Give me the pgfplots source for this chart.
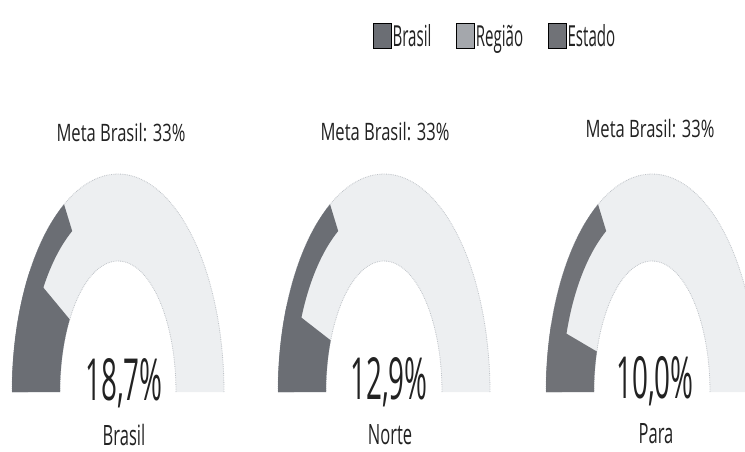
\documentclass[border=0pt]{standalone}
\usepackage{pgfplots}
\pgfplotsset{compat=1.18}
\usepackage{fontspec}
\setmainfont{Open Sans}
\newfontfamily\fmeta[FakeStretch=0.69]{Open Sans}
\newfontfamily\fval[FakeStretch=0.48]{Open Sans}
\newfontfamily\fname[FakeStretch=0.59]{Open Sans}
\newfontfamily\fleg[FakeStretch=0.52]{Open Sans}
\definecolor{bgc}{HTML}{EDEFF1}
\definecolor{edgec}{HTML}{BFC3C8}
\definecolor{cbrasil}{HTML}{6B6E74}
\definecolor{cregiao}{HTML}{A4A7AC}
\definecolor{cestado}{HTML}{707277}
\definecolor{txt}{HTML}{222222}

% annular sector of an elliptic gauge: #1 centre x, #2 outer rx, #3 outer ry,
% #4 inner rx, #5 inner ry, #6 share in percent, #7 style
\newcommand{\sector}[7]{%
  \addplot[#7, domain=0:2, samples=121, variable=\t]
   ({#1 + ((\t<=1) ? #2*cos(180-1.8*(#6)*(1-\t)) : #4*cos(180-1.8*(#6)*max(\t-1-1/60,0)*60/59))},
    {59 + ((\t<=1) ? #3*sin(180-1.8*(#6)*(1-\t)) : #5*sin(180-1.8*(#6)*max(\t-1-1/60,0)*60/59))});
}
% #1 centre x, #2 value, #3 meta, #4 fill colour
\newcommand{\gauge}[4]{%
  \sector{#1}{106}{218}{58}{131}{100}{fill=bgc, draw=none}
  \addplot[draw=edgec, line width=0.8pt, densely dotted, domain=0:180, samples=73, variable=\t] ({#1+106*cos(\t)},{59+218*sin(\t)});
  \addplot[draw=edgec, line width=0.8pt, densely dotted, domain=0:180, samples=73, variable=\t] ({#1+58*cos(\t)},{59+131*sin(\t)});
  \sector{#1}{106}{218}{58}{131}{#2}{fill=#4, draw=none}
  \sector{#1}{106}{218}{90}{187}{#3}{fill=#4, draw=none}
}

\begin{document}
\begin{tikzpicture}
\useasboundingbox (0,0) rectangle (745pt,451pt);
\begin{axis}[
  at={(0,0)}, anchor=south west,
  width=745pt, height=451pt, scale only axis,
  xmin=0, xmax=745, ymin=0, ymax=451,
  hide axis, clip=false,
  legend columns=3,
  legend image code/.code={\fill[#1] (0pt,-12pt) rectangle (18pt,13pt);},
  legend style={at={(0.5007,0.9202)}, anchor=west, draw=none, fill=none,
    font=\fontsize{29}{31}\fleg\color{txt}, inner sep=0pt,
    nodes={inner sep=1pt},
    /tikz/every even column/.append style={column sep=24pt}},
]
\addlegendimage{fill=cbrasil}
\addlegendentry{Brasil}
\addlegendimage{fill=cregiao}
\addlegendentry{Região}
\addlegendimage{fill=cestado}
\addlegendentry{Estado}

\gauge{118}{18.7}{33}{cbrasil}
\gauge{384}{12.9}{33}{cbrasil}
\gauge{652}{10.0}{33}{cestado}

\node[anchor=base, txt, font=\fontsize{24}{26}\fmeta] at (axis cs:121,310) {Meta Brasil: 33\%};
\node[anchor=base, txt, font=\fontsize{24}{26}\fmeta] at (axis cs:385,311) {Meta Brasil: 33\%};
\node[anchor=base, txt, font=\fontsize{24}{26}\fmeta] at (axis cs:650,313) {Meta Brasil: 33\%};

\node[anchor=base, txt, font=\fontsize{58}{60}\fval] at (axis cs:124,51) {18,7\%};
\node[anchor=base, txt, font=\fontsize{58}{60}\fval] at (axis cs:389,52) {12,9\%};
\node[anchor=base, txt, font=\fontsize{58}{60}\fval] at (axis cs:655,53) {10,0\%};

\node[anchor=base, txt, font=\fontsize{28}{30}\fname] at (axis cs:124,6) {Brasil};
\node[anchor=base, txt, font=\fontsize{28}{30}\fname] at (axis cs:390,7) {Norte};
\node[anchor=base, txt, font=\fontsize{28}{30}\fname] at (axis cs:656,8) {Para};
\end{axis}
\end{tikzpicture}
\end{document}
